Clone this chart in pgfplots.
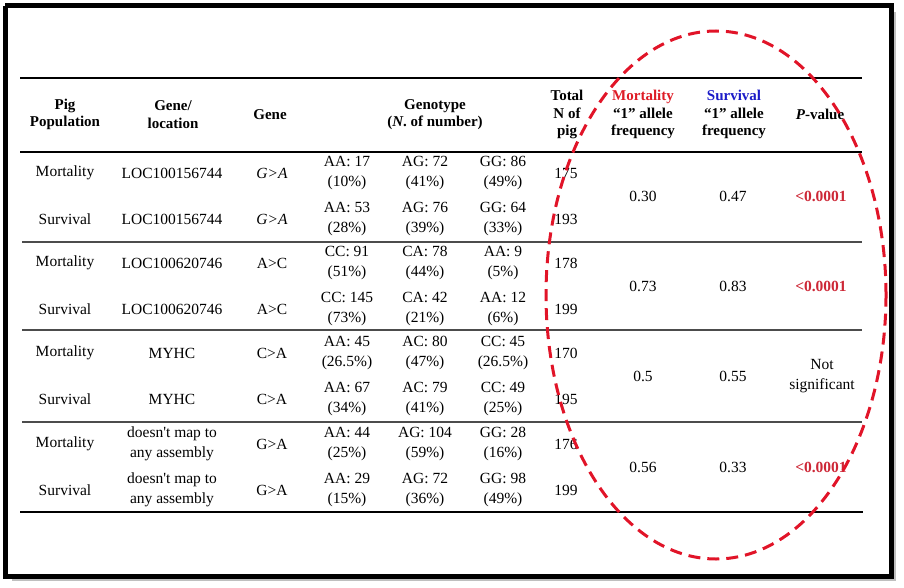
\documentclass[border=0pt]{standalone}
\usepackage{pgfplots}
\pgfplotsset{compat=1.18}
\usepackage{fontspec}
\setmainfont{Liberation Serif}
\definecolor{mortred}{RGB}{222,28,38}
\definecolor{survblue}{RGB}{28,28,200}
\definecolor{pred}{RGB}{205,40,55}
\definecolor{ringred}{RGB}{225,20,40}

\tikzset{
  body/.style={font=\fontsize{15.5}{19.5}\selectfont, align=center, inner sep=0pt},
  head/.style={font=\fontsize{15}{17.5}\selectfont\bfseries, align=center, inner sep=0pt},
  pval/.style={font=\fontsize{15.5}{19}\selectfont\bfseries, text=pred, inner sep=0pt},
}

\begin{document}
\begin{tikzpicture}
\begin{axis}[
  width=904pt, height=588pt, scale only axis,
  xmin=0, xmax=904, ymin=0, ymax=588, y dir=reverse,
  hide axis, clip=false,
]
\path (axis cs:0,0) rectangle (axis cs:904,588);

% shadow and frame
\addplot[black!25, line width=2pt] coordinates {(12,580) (895,580) (895,12)};
\addplot[black, line width=5pt, line join=miter] coordinates {(5,6) (891.5,6) (891.5,576.5) (5,576.5) (5,6)};

% rules
\addplot[black, line width=2pt] coordinates {(20,78) (862,78)};
\addplot[black, line width=2pt] coordinates {(20,152) (862,152)};
\addplot[black!70, line width=1.2pt] coordinates {(22,242) (862,242)};
\addplot[black!70, line width=1.2pt] coordinates {(22,330) (862,330)};
\addplot[black!70, line width=1.2pt] coordinates {(22,422) (862,422)};
\addplot[black, line width=2pt] coordinates {(20,512) (863,512)};

% header
\node[head] at (axis cs:65,114.5) {Pig\\Population};
\node[head] at (axis cs:173,114.5) {Gene/\\location};
\node[head] at (axis cs:270,114.5) {Gene};
\node[head] at (axis cs:435,114.5) {Genotype\\(\textit{N}. of number)};
\node[head] at (axis cs:567,114.5) {Total\\N of\\pig};
\node[head] at (axis cs:643,114.5) {\textcolor{mortred}{Mortality}\\“1” allele\\frequency};
\node[head] at (axis cs:734,114.5) {\textcolor{survblue}{Survival}\\“1” allele\\frequency};
\node[head] at (axis cs:820,114.5) {\textit{P}-value};

% rows: population
\node[body] at (axis cs:65,173) {Mortality};
\node[body] at (axis cs:65,263) {Mortality};
\node[body] at (axis cs:65,353) {Mortality};
\node[body] at (axis cs:65,444) {Mortality};
\node[body] at (axis cs:65,219) {Survival};
\node[body] at (axis cs:65,309) {Survival};
\node[body] at (axis cs:65,399) {Survival};
\node[body] at (axis cs:65,490) {Survival};

% gene / location
\node[body] at (axis cs:172,173) {LOC100156744};
\node[body] at (axis cs:172,219) {LOC100156744};
\node[body] at (axis cs:172,263) {LOC100620746};
\node[body] at (axis cs:172,309) {LOC100620746};
\node[body] at (axis cs:172,353) {MYHC};
\node[body] at (axis cs:172,399) {MYHC};
\node[body] at (axis cs:172,444) {doesn\textquotesingle t map to\\any assembly};
\node[body] at (axis cs:172,490) {doesn\textquotesingle t map to\\any assembly};

% gene
\node[body] at (axis cs:272,173) {\textit{G>A}};
\node[body] at (axis cs:272,219) {\textit{G>A}};
\node[body] at (axis cs:272,263) {A>C};
\node[body] at (axis cs:272,309) {A>C};
\node[body] at (axis cs:272,353) {C>A};
\node[body] at (axis cs:272,399) {C>A};
\node[body] at (axis cs:272,444) {G>A};
\node[body] at (axis cs:272,490) {G>A};

% genotype counts
\node[body] at (axis cs:347,173) {AA: 17\\(10\%)};
\node[body] at (axis cs:425,173) {AG: 72\\(41\%)};
\node[body] at (axis cs:503,173) {GG: 86\\(49\%)};
\node[body] at (axis cs:347,219) {AA: 53\\(28\%)};
\node[body] at (axis cs:425,219) {AG: 76\\(39\%)};
\node[body] at (axis cs:503,219) {GG: 64\\(33\%)};
\node[body] at (axis cs:347,263) {CC: 91\\(51\%)};
\node[body] at (axis cs:425,263) {CA: 78\\(44\%)};
\node[body] at (axis cs:503,263) {AA: 9\\(5\%)};
\node[body] at (axis cs:347,309) {CC: 145\\(73\%)};
\node[body] at (axis cs:425,309) {CA: 42\\(21\%)};
\node[body] at (axis cs:503,309) {AA: 12\\(6\%)};
\node[body] at (axis cs:347,353) {AA: 45\\(26.5\%)};
\node[body] at (axis cs:425,353) {AC: 80\\(47\%)};
\node[body] at (axis cs:503,353) {CC: 45\\(26.5\%)};
\node[body] at (axis cs:347,399) {AA: 67\\(34\%)};
\node[body] at (axis cs:425,399) {AC: 79\\(41\%)};
\node[body] at (axis cs:503,399) {CC: 49\\(25\%)};
\node[body] at (axis cs:347,444) {AA: 44\\(25\%)};
\node[body] at (axis cs:425,444) {AG: 104\\(59\%)};
\node[body] at (axis cs:503,444) {GG: 28\\(16\%)};
\node[body] at (axis cs:347,490) {AA: 29\\(15\%)};
\node[body] at (axis cs:425,490) {AG: 72\\(36\%)};
\node[body] at (axis cs:503,490) {GG: 98\\(49\%)};

% totals
\node[body] at (axis cs:566,173) {175};
\node[body] at (axis cs:566,219) {193};
\node[body] at (axis cs:566,263) {178};
\node[body] at (axis cs:566,309) {199};
\node[body] at (axis cs:566,353) {170};
\node[body] at (axis cs:566,399) {195};
\node[body] at (axis cs:566,444) {176};
\node[body] at (axis cs:566,490) {199};

% allele frequencies
\node[body] at (axis cs:643,196) {0.30};
\node[body] at (axis cs:733,196) {0.47};
\node[body] at (axis cs:643,286) {0.73};
\node[body] at (axis cs:733,286) {0.83};
\node[body] at (axis cs:643,376) {0.5};
\node[body] at (axis cs:733,376) {0.55};
\node[body] at (axis cs:643,467) {0.56};
\node[body] at (axis cs:733,467) {0.33};

% p-values
\node[pval] at (axis cs:821,196) {<0.0001};
\node[pval] at (axis cs:821,286) {<0.0001};
\node[body] at (axis cs:822,376) {Not\\significant};
\node[pval] at (axis cs:821,467) {<0.0001};

% dashed ring
\draw[ringred, line width=3pt, dash pattern=on 12pt off 7pt]
  (axis cs:716,295) ellipse [x radius=170pt, y radius=264pt];
\end{axis}
\end{tikzpicture}
\end{document}
